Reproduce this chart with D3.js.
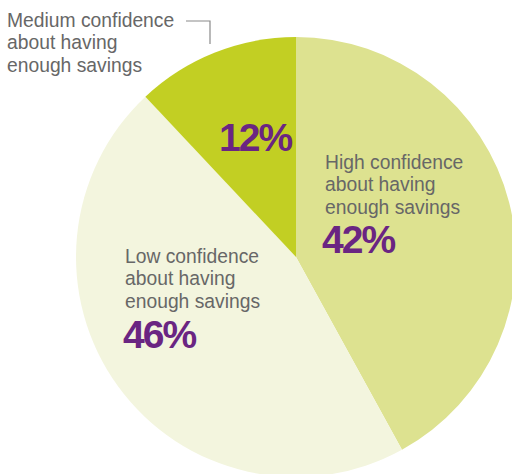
<!DOCTYPE html>
<html>
<head>
<meta charset="utf-8">
<script src="https://cdn.jsdelivr.net/npm/d3@7"></script>
<style>
  body { margin: 0; background: #ffffff; }
  svg { display: block; }
  .label { font-family: "Liberation Sans", Arial, sans-serif; font-size: 19.3px; fill: #676767; }
  .pct { font-family: "Liberation Sans", Arial, sans-serif; font-weight: bold; font-size: 39px; fill: #6a2582; letter-spacing: -2px; }
</style>
</head>
<body>
<div id="chart"></div>
<script>
// slice data, clockwise from 12 o'clock
const categories = ["High", "Low", "Medium"];
const shares = [42, 46, 12];
const labels = [
    ["High confidence", "about having", "enough savings"],
    ["Low confidence", "about having", "enough savings"],
    ["Medium confidence", "about having", "enough savings"]
];
const sliceColors = ["#dde290", "#f3f5de", "#c2cf23"];

const width = 512, height = 474;
const cx = 296, cy = 257, radius = 220;

const svg = d3.select("#chart").append("svg")
    .attr("width", width)
    .attr("height", height);

const pie = d3.pie().sort(null).value(d => d);
const arcs = pie(shares);
const arc = d3.arc().innerRadius(0).outerRadius(radius);

const g = svg.append("g").attr("transform", `translate(${cx},${cy})`);

g.selectAll("path")
    .data(arcs)
    .join("path")
    .attr("d", arc)
    .attr("fill", (d, i) => sliceColors[i]);

// label positions (relative to page)
const labelPos = [
    { x: 325, y: 169, pctX: 322, pctY: 253 },
    { x: 125, y: 263, pctX: 123, pctY: 348 },
    { x: 7, y: 27, pctX: 219, pctY: 151 }
];

categories.forEach((c, i) => {
    const p = labelPos[i];
    const t = svg.append("text").attr("class", "label");
    labels[i].forEach((line, j) => {
        t.append("tspan").attr("x", p.x).attr("y", p.y + j * 22.3).text(line);
    });
    svg.append("text")
        .attr("class", "pct")
        .attr("x", p.pctX)
        .attr("y", p.pctY)
        .text(shares[i] + "%");
});

// leader line for the medium label
svg.append("path")
    .attr("d", "M186,21H210V44")
    .attr("fill", "none")
    .attr("stroke", "#8a8a8a")
    .attr("stroke-width", 1.2);
</script>
</body>
</html>
